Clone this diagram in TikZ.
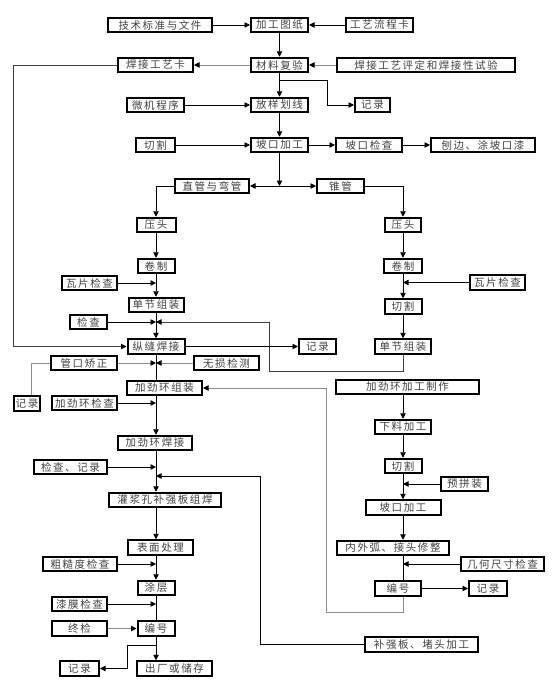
\documentclass[tikz,border=0pt]{standalone}
\usepackage{fontspec}
\newfontfamily\cjk[LetterSpace=15]{Noto Sans CJK SC}
\usetikzlibrary{arrows.meta}
\begin{document}
\begin{tikzpicture}[x=1pt,y=-1pt,
  box/.style={draw=black, line width=2pt, inner sep=0pt, minimum height=14.5pt, fill=white, text=black!75, font=\cjk\fontsize{10.5}{12}\selectfont},
  ln/.style={draw=black, line width=0.9pt},
  dl/.style={draw=black!75, line width=0.9pt},
  gl/.style={draw=black!45, line width=0.9pt},
  tip/.style={-{Triangle[length=5.5pt,width=5.5pt,color=black]}},
]
\useasboundingbox[fill=white] (0,0) rectangle (555,686);
\coordinate (LT) at (156,0);
\coordinate (RT) at (403,0);
% ---- top rows
\node[box, minimum width=104pt] (jsbz) at (160,25) {技术标准与文件};
\node[box, minimum width=57pt] (jgtz) at (279.5,25) {加工图纸};
\node[box, minimum width=67pt] (gylc) at (379.5,25) {工艺流程卡};
\node[box, minimum width=75pt] (hjgyk) at (155.5,65) {焊接工艺卡};
\node[box, minimum width=57pt] (clfy) at (279.5,65) {材料复验};
\node[box, minimum width=178pt] (hjpd) at (426,65) {焊接工艺评定和焊接性试验};
\node[box, minimum width=57pt] (wjcx) at (155.5,105) {微机程序};
\node[box, minimum width=57pt] (fyhx) at (279.5,105) {放样划线};
\node[box, minimum width=35pt] (jl1) at (372.5,105) {记录};
\node[box, minimum width=39pt] (qg1) at (155.5,145) {切割};
\node[box, minimum width=57pt] (pkjg) at (279.5,145) {坡口加工};
\node[box, minimum width=66pt] (pkjc) at (369,145) {坡口检查};
\node[box, minimum width=104pt] (pbt) at (483,145) {刨边、涂坡口漆};
\node[box, minimum width=74pt] (zgwg) at (212,186) {直管与弯管};
\node[box, minimum width=47pt] (zg) at (340.5,186) {锥管};
% ---- left column
\node[box, minimum width=39pt] (yt1) at (156,225) {压头};
\node[box, minimum width=37pt] (jz1) at (156,266) {卷制};
\node[box, minimum width=55pt] (wp1) at (89.5,283) {瓦片检查};
\node[box, minimum width=55pt] (djzz1) at (156,305) {单节组装};
\node[box, minimum width=37pt] (jc) at (88.5,322) {检查};
\node[box, minimum width=57pt] (zfhj) at (156,346.5) {纵缝焊接};
\node[box, minimum width=37pt] (jl2) at (317.5,346.5) {记录};
\node[box, minimum width=66pt] (gkjz) at (84,363) {管口矫正};
\node[box, minimum width=65pt] (wsjc) at (226.5,363) {无损检测};
\node[box, minimum width=26pt] (jl3) at (27,403.5) {记录};
\node[box, minimum width=75pt] (jjhzz) at (164.5,388) {加劲环组装};
\node[box, minimum width=65pt] (jjhjc) at (84.5,403) {加劲环检查};
\node[box, minimum width=74pt] (jjhhj) at (155,443) {加劲环焊接};
\node[box, minimum width=73pt] (jcjl) at (70.5,467) {检查、记录};
\node[box, minimum width=112pt] (gjk) at (165,500) {灌浆孔补强板组焊};
\node[box, minimum width=65pt] (bmcl) at (160.5,547.5) {表面处理};
\node[box, minimum width=74pt] (ccd) at (80,564) {粗糙度检查};
\node[box, minimum width=37pt] (tc) at (156,588) {涂层};
\node[box, minimum width=55pt] (qm) at (79.5,604) {漆膜检查};
\node[box, minimum width=37pt] (bh1) at (156,628.5) {编号};
\node[box, minimum width=55pt] (zj) at (79.5,628.5) {终检};
\node[box, minimum width=75pt] (cc) at (174.5,668.5) {出厂或储存};
\node[box, minimum width=39pt] (jl4) at (79.5,668.5) {记录};
% ---- right column
\node[box, minimum width=36pt] (yt2) at (403,225) {压头};
\node[box, minimum width=38pt] (jz2) at (403,266) {卷制};
\node[box, minimum width=55pt] (wp2) at (497.5,282.5) {瓦片检查};
\node[box, minimum width=37pt] (qg2) at (403,306.5) {切割};
\node[box, minimum width=56pt] (djzz2) at (403,346.5) {单节组装};
\node[box, minimum width=143pt] (jjhjgzz) at (407.5,387) {加劲环加工制作};
\node[box, minimum width=56pt] (xljg) at (403,427) {下料加工};
\node[box, minimum width=37pt] (qg3) at (403,466) {切割};
\node[box, minimum width=47pt] (ypz) at (464.5,484) {预拼装};
\node[box, minimum width=75pt] (pkjg2) at (403,507.5) {坡口加工};
\node[box, minimum width=112pt] (nwh) at (393,548) {内外弧、接头修整};
\node[box, minimum width=83pt] (jhcc) at (502.5,564) {几何尺寸检查};
\node[box, minimum width=46pt] (bh2) at (398,588.5) {编号};
\node[box, minimum width=38pt] (jl5) at (488,588.5) {记录};
\node[box, minimum width=113pt] (bqb) at (421.5,644.5) {补强板、堵头加工};
% ---- connectors, top
\draw[ln,tip] (jsbz) -- (jgtz);
\draw[ln,tip] (gylc) -- (jgtz);
\draw[ln,tip] (jgtz) -- (clfy);
\draw[gl,tip] (clfy) -- (hjgyk);
\draw[gl,tip] (hjpd) -- (clfy);
\coordinate (c1) at (13,65);
\draw[dl,tip] (hjgyk.west) -- (c1) |- (zfhj.west);
\draw[ln,tip] (clfy) -- (fyhx);
\coordinate (j1) at (279.5,80);
\coordinate (c2) at (327,80);
\draw[ln,tip] (j1) -- (c2) |- (jl1.west);
\draw[ln,tip] (wjcx) -- (fyhx);
\draw[ln,tip] (fyhx) -- (pkjg);
\draw[ln,tip] (qg1) -- (pkjg);
\draw[ln,tip] (pkjg) -- (pkjc);
\draw[ln,tip] (pkjc) -- (pbt);
\coordinate (j2) at (279.5,186);
\draw[ln,tip] (pkjg) -- (j2);
\draw[ln,tip] (j2) -- (zgwg);
\draw[ln,tip] (j2) -- (zg);
\draw[ln,tip] (zgwg.west) -| (yt1.north);
\draw[ln,tip] (zg.east) -| (yt2.north);
% ---- left column
\draw[ln,tip] (yt1) -- (jz1);
\draw[ln,tip] (jz1) -- (djzz1);
\draw[ln,tip] (wp1.east) -- (wp1.east -| LT);
\draw[ln,tip] (djzz1) -- (zfhj);
\draw[ln,tip] (jc.east) -- (jc.east -| LT);
\coordinate (c3) at (269,371);
\draw[dl,tip] (djzz2.south) |- (c3) |- (jc.east -| LT);
\draw[ln,tip] (zfhj) -- (jl2);
\coordinate (j3) at (156,363);
\draw[gl,tip] (gkjz) -- (j3);
\draw[gl,tip] (wsjc) -- (j3);
\draw[gl] (gkjz.west) -| ([xshift=4pt]jl3.north);
\draw[ln] (zfhj.south) -- (zfhj.south |- jjhzz.north);
\draw[ln,tip] (jjhzz.south -| LT) -- (jjhhj.north -| LT);
\draw[ln,tip] (jjhjc.east) -- (jjhjc.east -| LT);
\draw[ln,tip] (jjhhj.south -| LT) -- (gjk.north -| LT);
\draw[ln,tip] (jcjl.east) -- (jcjl.east -| LT);
\coordinate (c4) at (260,476);
\draw[ln,tip] (bqb.west) -| (c4) -- (c4 -| LT);
\draw[ln,tip] (gjk.south -| LT) -- (bmcl.north -| LT);
\draw[ln,tip] (bmcl.south -| LT) -- (tc.north);
\draw[ln,tip] (ccd.east) -- (ccd.east -| LT);
\draw[ln] (tc) -- (bh1);
\draw[ln,tip] (qm.east) -- (qm.east -| LT);
\draw[gl,tip] (zj) -- (bh1);
\draw[ln,tip] (bh1.south) -- (bh1.south |- cc.north);
\coordinate (c5) at (127,645);
\draw[ln,tip] (c5 -| LT) -- (c5) |- (jl4.east);
% ---- right column
\draw[ln,tip] (yt2) -- (jz2);
\draw[ln,tip] (jz2) -- (qg2);
\draw[ln,tip] (wp2.west) -- (wp2.west -| RT);
\draw[ln,tip] (qg2) -- (djzz2);
\draw[ln,tip] (jjhjgzz.south -| RT) -- (xljg.north);
\draw[ln,tip] (xljg) -- (qg3);
\draw[ln,tip] (qg3) -- (pkjg2);
\draw[ln,tip] (ypz.west) -- (ypz.west -| RT);
\draw[ln,tip] (pkjg2.south -| RT) -- (nwh.north -| RT);
\draw[ln] (nwh.south -| RT) -- (bh2.north -| RT);
\draw[ln,tip] (jhcc.west) -- (jhcc.west -| RT);
\draw[ln,tip] (bh2) -- (jl5);
\coordinate (c6) at (326,612);
\draw[gl,tip] (bh2.south -| RT) |- (c6) |- (jjhzz.east);
\end{tikzpicture}
\end{document}
